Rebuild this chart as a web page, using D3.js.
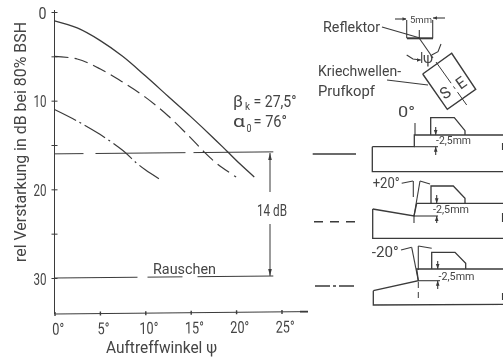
<!DOCTYPE html>
<html><head><meta charset="utf-8">
<script src="https://cdn.jsdelivr.net/npm/d3@7"></script>
<style>html,body{margin:0;background:#fff}svg{display:block}
text{font-family:Roboto,"Liberation Sans",sans-serif;font-weight:400;fill:#444;stroke:none;font-size:14px}
</style></head><body><svg id="c" width="503" height="358"></svg>
<script>
const xMajor=[0,5,10,15,20,25];
const yMajor=[0,10,20,30];
const yMinor=[5,15,25];
const solidX=[0,2.5,5,7.5,10,12.5,15,17.5,19,20.5,22];
const solidY=[1,1.8,3.2,5,7.2,9.5,11.8,14.2,15.7,17.2,18.6];
const dashedX=[0,2.5,5,7.5,10,12.5,15,16.5,18,20];
const dashedY=[5,5.3,6.4,7.9,9.6,11.7,14.2,15.8,17.2,18.6];
const dotX=[0,2.5,5,7.5,9,10,11.5];
const dotY=[11,12.3,13.8,15.6,17,17.8,18.8];
const refLevels=[16,30];
const refDash=["29 12 90 8 130 6","83 10 35 15 76"];

const ink="#3a3a3a";
const svg=d3.select("#c");
svg.append("rect").attr("width",503).attr("height",358).attr("fill","#fff");
svg.append("defs").append("filter").attr("id","soft").append("feGaussianBlur").attr("stdDeviation",0.35);
const root=svg.append("g").attr("filter","url(#soft)");
const g=root.append("g").attr("fill","none").attr("stroke",ink).attr("stroke-width",1);
const X=d3.scaleLinear().domain([0,25]).range([54.5,281.5]);
const Y=d3.scaleLinear().domain([0,30]).range([12,278]);
const curve=d3.line().x(d=>X(d[0])).y(d=>Y(d[1])).curve(d3.curveCatmullRom);
const zip=(a,b)=>a.map((v,i)=>[v,b[i]]);

// axes
const axisY=d3.axisLeft(Y).tickValues(yMajor.concat(yMinor)).tickSize(3).tickFormat(d=>yMajor.includes(d)?d:"");
const ay=root.append("g").attr("transform","translate(54.5,0)").call(axisY);
ay.select(".domain").remove();
ay.selectAll(".tick line").attr("x1",-3).attr("x2",3).attr("stroke",ink);
ay.selectAll(".tick text").attr("x",-8).attr("dy","0.38em").style("font-size","16.5px")
  .attr("textLength",d=>d?13:8).attr("lengthAdjust","spacingAndGlyphs");
const axisX=d3.axisBottom(X).tickValues(xMajor).tickSize(2).tickFormat(d=>d+"°");
const ax=root.append("g").attr("transform","translate(0,314) rotate(-0.53 54.5 0)").call(axisX);
ax.select(".domain").remove();
ax.selectAll(".tick line").attr("y1",-2).attr("y2",2).attr("stroke",ink).attr("stroke-width",1.4);
ax.selectAll(".tick text").attr("x",3).attr("y",9).style("font-size","16.5px")
  .attr("textLength",d=>d>=10?19:12).attr("lengthAdjust","spacingAndGlyphs");
const pl=d3.line();
g.append("path").attr("d",pl([[54.5,10],[54.5,314],[308,311.6]]));
g.append("path").attr("d",pl([[300,311.7],[308,311.6]])).attr("stroke-width",1.8);

// reference levels
refLevels.forEach((v,i)=>{
 g.append("path").attr("d",pl([[X(0),Y(v)],[X(24.1),Y(v)-2]])).attr("stroke-dasharray",refDash[i]);
});
// curves
g.append("path").attr("d",curve(zip(solidX,solidY))).attr("stroke-width",1.3);
g.append("path").attr("d",curve(zip(dashedX,dashedY))).attr("stroke-width",1.2).attr("stroke-dasharray","14 6");
g.append("path").attr("d",curve(zip(dotX,dotY))).attr("stroke-width",1.2).attr("stroke-dasharray","24 4 2 4");

// 14 dB bracket
const bx=270;
g.append("path").attr("d",pl([[bx,153],[bx,192]]));
g.append("path").attr("d",pl([[bx,224],[bx,276]]));
const tri=(x,y,dir,s=5,w=1.8)=>{root.append("path").attr("fill",ink).attr("d",pl(dir=="h"?[[x,y],[x+s,y-w],[x+s,y+w]]:dir=="hr"?[[x,y],[x-s,y-w],[x-s,y+w]]:dir=="d"?[[x,y],[x-w,y-s],[x+w,y-s]]:[[x,y],[x-w,y+s],[x+w,y+s]])+"Z");};
tri(bx,153,"u",7);tri(bx,276,"d",7);

const T=(s,x,y,size,len,extra)=>{const t=root.append("text").attr("x",x).attr("y",y).style("font-size",size+"px").text(s);
 if(len)t.attr("textLength",len).attr("lengthAdjust","spacingAndGlyphs");if(extra)extra(t);return t;};
T("rel Verstarkung in dB bei 80% BSH",0,0,16,240,t=>t.attr("transform","translate(26,262) rotate(-90)"));
T("Auftreffwinkel ψ",106,353,16,111);
T("Rauschen",153,274,15,63);
T("14 dB",257,216,16,30);
T("β",233,107,17,10);T("k",245,110,10,5);T("= 27,5°",253.5,107,16,43);
T("α",233,127,17,12);T("0",246.5,132,10,5);T("= 76°",253.5,127,16,33.5);

// schematic (page coordinates)
const s2=root.append("g").attr("fill","none").attr("stroke",ink).attr("stroke-width",1.1);
const L=(pts,w,dash)=>{const p=s2.append("path").attr("d",pl(pts));if(w)p.attr("stroke-width",w);if(dash)p.attr("stroke-dasharray",dash);return p;};
// reflector
L([[406.7,20],[406.7,38.3]]);L([[432.7,20],[432.7,38.3]]);L([[407,38.3],[433,38.3]],2);
L([[395,19],[406,19]]);L([[433,18],[445,18]]);tri(406.5,19,"hr",4);tri(433,18,"h",4);
L([[382,27],[420,38]]);L([[419.3,30],[419.3,38.3]]);
T("5mm",410,23,9.5,22);
T("Reflektor",323,32,15.5,57);
T("Kriechwellen-",318,76,15.5,83);
T("Prufkopf",318,96,15.5,57);
L([[387,80],[428,85]]);
// probe
L([[422.7,74],[451.7,53.3],[475.7,89.3],[447.3,109.3],[422.7,74]],1.4);
L([[419.3,38.3],[433,58]]);L([[436,62],[466.7,105]],1,"26 4 3 4");
L([[406.7,55],[413,59],[420.7,60]]);L([[431.7,55],[438,51.7],[441,44]]);
L([[421.7,52],[421.7,63]]);
tri(421,60,"hr",4);
T("ψ",423,63,15,10);
T("S",444.5,100,16,null,t=>t.attr("transform","rotate(-35 444.5 100)"));
T("E",460.5,90,16,null,t=>t.attr("transform","rotate(-35 460.5 90)"));

function block(b){
 L(b.outline,1.3);L(b.probe,1.3);
 L(b.datum);
 L([[b.ax,b.aUp[0]],[b.ax,b.aUp[1]]]);tri(b.ax,b.aUp[1],"d",5);
 L([[b.ax,b.aDn[0]],[b.ax,b.aDn[1]]]);tri(b.ax,b.aDn[0],"u",5);
 T("-2,5mm",b.tx,b.ty,11,b.tl);
}
// 0 deg
block({outline:[[372.3,146.7],[414.3,146.7],[414.3,135],[503,135]],probe:[[430.7,135],[430.7,117.7],[454.3,117.7],[465,130.7],[465,135]],datum:[[414.3,146.7],[438,146.7]],ax:435.7,aUp:[127,135],aDn:[146.7,155],tx:436,ty:144,tl:35});
L([[372.3,146.7],[372.3,171.7],[503,171.7]],1.3);
L([[415,123],[415,135]]);
T("0°",398,117,15,17);
L([[312.7,154],[356,154]],1.5);
// +20 deg
const o2=170;
block({outline:[[372.7,o2+39],[414,o2+46],[416.7,o2+33.3],[503,o2+33.3]],probe:[[431,o2+33.3],[431,o2+16],[453.3,o2+16],[465,o2+28.3],[465,o2+33.3]],datum:[[414,o2+46],[438,o2+46]],ax:436.7,aUp:[o2+25,o2+33.3],aDn:[o2+46,o2+53],tx:433,ty:o2+43,tl:36});
L([[372.7,o2+39],[372.7,o2+68.3],[503,o2+68.3]],1.3);
L([[413.3,o2+11],[413.3,o2+27]]);L([[414,o2+46],[420,o2+11]]);L([[414,o2+46],[414,o2+53]]);
L([[401.7,o2+13.3],[413,o2+11]]);L([[420,o2+11],[430,o2+14]]);
T("+20°",372.7,o2+18,15,27);
L([[314,o2+51.7],[358.3,o2+51.7]],1.5,"9 7");
// -20 deg
block({outline:[[373.3,o2+120.7],[418.3,o2+110.7],[416.7,o2+99],[503,o2+99]],probe:[[431.7,o2+99],[431.7,o2+82.3],[455,o2+82.3],[465.7,o2+93.3],[465.7,o2+99]],datum:[[418.3,o2+110.7],[440,o2+110.7]],ax:437.7,aUp:[o2+91,o2+99],aDn:[o2+110.7,o2+119],tx:438.5,ty:o2+110,tl:36});
L([[373.3,o2+120.7],[373.3,o2+135],[503,o2+134.3]],1.3);
L([[411.7,o2+77.3],[418.3,o2+110.7]]);L([[418.3,o2+76],[418.3,o2+100]]);L([[418.3,o2+112],[418.3,o2+130]],1,"6 4");
L([[401,o2+80],[411.7,o2+77.3]]);L([[418.3,o2+76],[431.7,o2+78.3]]);
T("-20°",371.7,o2+87,15,27);
L([[315,o2+116],[358.3,o2+116]],1.5,"15 3 3 3 15");
// right-edge marks
[[143,150],[213,222],[293,300]].forEach(d=>L([[502.5,d[0]],[502.5,d[1]]]));
</script></body></html>
